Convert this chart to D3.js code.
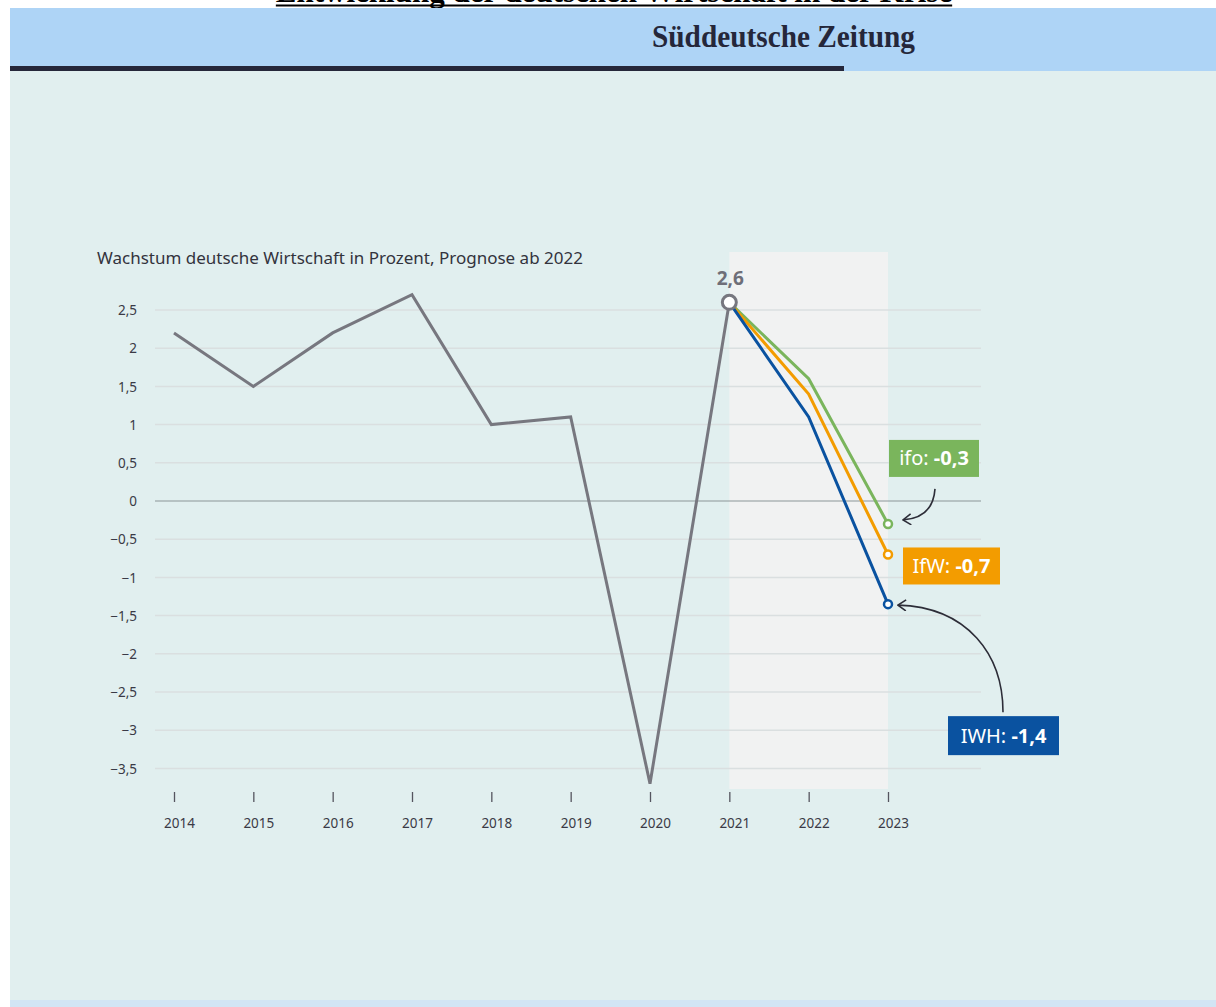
<!DOCTYPE html>
<html lang="de">
<head>
  <meta charset="UTF-8">
  <title>Entwicklung der deutschen Wirtschaft in der Krise</title>
  <script src="https://d3js.org/d3.v7.min.js"></script>
  <style>
    * { box-sizing: border-box; }
    body {
      margin: 0;
      background: #fff;
      font-family: 'Noto Sans', sans-serif;
    }
    svg { display: block; }
    .axis text { font-size: 13.5px; fill: #3a3a46; font-family: 'Noto Sans', sans-serif; }
    .axis path { display: none; }
  </style>
</head>
<body>
  <svg id="chart" width="1216" height="1007"></svg>

  <script>
    // Daten: Wachstum des BIP in Prozent
    const years = [2014, 2015, 2016, 2017, 2018, 2019, 2020, 2021, 2022, 2023];
    const histYears = [2014, 2015, 2016, 2017, 2018, 2019, 2020, 2021];
    const histValues = [2.2, 1.5, 2.2, 2.7, 1.0, 1.1, -3.7, 2.6];
    const forecastYears = [2021, 2022, 2023];
    const ifoValues = [2.6, 1.6, -0.3];
    const ifwValues = [2.6, 1.4, -0.7];
    const iwhValues = [2.6, 1.1, -1.35];
    const institutes = ["ifo", "IfW", "IWH"];
    const instituteLabels = ["-0,3", "-0,7", "-1,4"];
    const yTicks = [2.5, 2, 1.5, 1, 0.5, 0, -0.5, -1, -1.5, -2, -2.5, -3, -3.5];

    const svg = d3.select("#chart");

    // Seitentitel (oben abgeschnitten wie im Original)
    const title = svg.append("text")
      .attr("x", 614)
      .attr("y", 2)
      .attr("text-anchor", "middle")
      .attr("font-family", "'Liberation Serif', serif")
      .attr("font-weight", "bold")
      .attr("font-size", 31)
      .attr("fill", "#000")
      .text("Entwicklung der deutschen Wirtschaft in der Krise");
    const tb = title.node().getBBox();
    svg.append("rect")
      .attr("x", tb.x).attr("y", 4.5)
      .attr("width", tb.width).attr("height", 2)
      .attr("fill", "#000");

    // Grafik-Hintergrund
    svg.append("rect").attr("x", 10).attr("y", 8).attr("width", 1206).attr("height", 63).attr("fill", "#aed4f6");
    svg.append("rect").attr("x", 10).attr("y", 66).attr("width", 834).attr("height", 5).attr("fill", "#25273a");
    svg.append("rect").attr("x", 10).attr("y", 71).attr("width", 1206).attr("height", 929).attr("fill", "#e1efef");
    svg.append("rect").attr("x", 10).attr("y", 1000).attr("width", 1206).attr("height", 7).attr("fill", "#d2e5f4");

    // Logo
    svg.append("text")
      .attr("x", 652)
      .attr("y", 47)
      .attr("font-family", "'Liberation Serif', serif")
      .attr("font-weight", "bold")
      .attr("font-size", 31)
      .attr("fill", "#25273a")
      .attr("textLength", 263)
      .attr("lengthAdjust", "spacingAndGlyphs")
      .text("Süddeutsche Zeitung");

    // Skalen
    const x = d3.scaleLinear().domain([2014, 2023]).range([174, 888]);
    const y = d3.scaleLinear().domain([0, 2.5]).range([501, 310]);

    // Prognose-Bereich
    svg.append("rect")
      .attr("x", x(2021))
      .attr("y", 252)
      .attr("width", x(2023) - x(2021))
      .attr("height", 789 - 252)
      .attr("fill", "#f1f2f2");

    // Untertitel
    svg.append("text")
      .attr("x", 97)
      .attr("y", 264)
      .attr("font-size", 17)
      .attr("fill", "#33333d")
      .text("Wachstum deutsche Wirtschaft in Prozent, Prognose ab 2022");

    // Gitterlinien
    svg.append("g")
      .selectAll("line")
      .data(yTicks)
      .join("line")
      .attr("x1", 155).attr("x2", 981)
      .attr("y1", d => y(d)).attr("y2", d => y(d))
      .attr("stroke", d => d === 0 ? "#8c9598" : "#dadfe0")
      .attr("stroke-width", d => d === 0 ? 1.2 : 1.5);

    // y-Achse
    const fmt = d => (d < 0 ? "\u2212" : "") + String(Math.abs(d)).replace(".", ",");
    svg.append("g")
      .attr("class", "axis")
      .attr("transform", "translate(137,0)")
      .call(d3.axisLeft(y).tickValues(yTicks).tickFormat(fmt).tickSize(0).tickPadding(0))
      .selectAll("text").attr("dy", "0.35em");

    // x-Achse
    const xAxis = svg.append("g")
      .attr("class", "axis")
      .attr("transform", "translate(0,792)")
      .call(d3.axisBottom(x).tickValues(years).tickFormat(d3.format("d")).tickSize(10).tickPadding(16));
    xAxis.selectAll(".tick line").attr("stroke", "#55555f").attr("stroke-width", 1.3);
    xAxis.selectAll(".tick text").attr("dx", 5);

    // Linien
    const line = d3.line().x(d => x(d[0])).y(d => y(d[1]));

    svg.append("path")
      .datum(d3.zip(histYears, histValues))
      .attr("fill", "none")
      .attr("stroke", "#77777f")
      .attr("stroke-width", 3)
      .attr("d", line);

    const series = [
      { name: institutes[0], values: ifoValues, color: "#7ab55c", label: instituteLabels[0] },
      { name: institutes[1], values: ifwValues, color: "#f39c00", label: instituteLabels[1] },
      { name: institutes[2], values: iwhValues, color: "#0a52a0", label: instituteLabels[2] }
    ];

    series.forEach(s => {
      svg.append("path")
        .datum(d3.zip(forecastYears, s.values))
        .attr("fill", "none")
        .attr("stroke", s.color)
        .attr("stroke-width", 3)
        .attr("d", line);
      svg.append("circle")
        .attr("cx", x(2023))
        .attr("cy", y(s.values[2]))
        .attr("r", 4)
        .attr("fill", "#fff")
        .attr("stroke", s.color)
        .attr("stroke-width", 2.5);
    });

    // Startpunkt 2021
    const last = histValues[histValues.length - 1];
    svg.append("circle")
      .attr("cx", x(2021))
      .attr("cy", y(last))
      .attr("r", 7)
      .attr("fill", "#fff")
      .attr("stroke", "#77777f")
      .attr("stroke-width", 3);
    svg.append("text")
      .attr("x", x(2021) + 1)
      .attr("y", y(last) - 17)
      .attr("text-anchor", "middle")
      .attr("font-size", 19)
      .attr("font-weight", "bold")
      .attr("fill", "#6e6e78")
      .text(fmt(last));

    // Beschriftungen der Prognosen
    const boxes = [
      { dx: 1, dy: -84, w: 90, h: 37 },
      { dx: 15, dy: -7, w: 97, h: 37 },
      { dx: 60, dy: 112, w: 111, h: 39 }
    ];
    series.forEach((s, i) => {
      const b = boxes[i];
      const bx = x(2023) + b.dx, by = y(s.values[2]) + b.dy;
      svg.append("rect")
        .attr("x", bx).attr("y", by)
        .attr("width", b.w).attr("height", b.h)
        .attr("fill", s.color);
      const t = svg.append("text")
        .attr("x", bx + b.w / 2)
        .attr("y", by + b.h / 2)
        .attr("dy", "0.35em")
        .attr("text-anchor", "middle")
        .attr("font-size", 20)
        .attr("fill", "#fff");
      t.append("tspan").text(s.name + ": ");
      t.append("tspan").attr("font-weight", "bold").text(s.label);
    });

    // Pfeile
    const defs = svg.append("defs");
    defs.append("marker")
      .attr("id", "arrow")
      .attr("viewBox", "0 0 10 12")
      .attr("refX", 9).attr("refY", 6)
      .attr("markerWidth", 10).attr("markerHeight", 12)
      .attr("markerUnits", "userSpaceOnUse")
      .attr("orient", "auto-start-reverse")
      .append("path")
      .attr("d", "M1,0.5 L9,6 L1,11.5")
      .attr("fill", "none")
      .attr("stroke", "#2d2d38")
      .attr("stroke-width", 1.6);

    const ifoEnd = [x(2023) + 15, y(ifoValues[2]) - 4];
    svg.append("path")
      .attr("d", `M${ifoEnd[0]},${ifoEnd[1]} Q${ifoEnd[0] + 30},${ifoEnd[1] - 2} ${ifoEnd[0] + 32},${ifoEnd[1] - 31}`)
      .attr("fill", "none")
      .attr("stroke", "#2d2d38")
      .attr("stroke-width", 1.6)
      .attr("marker-start", "url(#arrow)");

    const iwhEnd = [x(2023) + 10, y(iwhValues[2]) + 1];
    svg.append("path")
      .attr("d", `M${iwhEnd[0]},${iwhEnd[1]} C${iwhEnd[0] + 70},${iwhEnd[1] + 2} ${iwhEnd[0] + 105},${iwhEnd[1] + 50} ${iwhEnd[0] + 105},${iwhEnd[1] + 107}`)
      .attr("fill", "none")
      .attr("stroke", "#2d2d38")
      .attr("stroke-width", 1.6)
      .attr("marker-start", "url(#arrow)");
  </script>
</body>
</html>
